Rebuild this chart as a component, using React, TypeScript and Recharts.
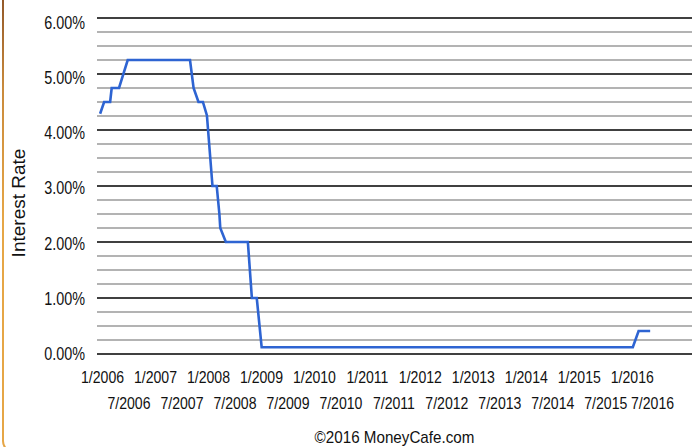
import React from 'react';
import { LineChart, Line, XAxis, YAxis, CartesianGrid } from 'recharts';

// Months since Jan 2006 (fractional where the step falls mid-month) and rate in %
const monthIndex = [0, 0.9, 2.25, 2.6, 4.25, 6.2, 20.2, 21.0, 22.1, 23.1, 24.0, 25.25, 26.2, 26.8, 27.0, 28.25, 33.2, 34.1, 35.2, 36.3, 119.7, 121.0, 123.6];
const rate = [4.29, 4.5, 4.5, 4.75, 4.75, 5.25, 5.25, 4.75, 4.5, 4.5, 4.26, 3.0, 3.0, 2.5, 2.25, 2.0, 2.0, 1.0, 1.0, 0.12, 0.12, 0.41, 0.41];

const xTickValues = [0, 6, 12, 18, 24, 30, 36, 42, 48, 54, 60, 66, 72, 78, 84, 90, 96, 102, 108, 114, 120, 126];
const xTickLabels = ['1/2006', '7/2006', '1/2007', '7/2007', '1/2008', '7/2008', '1/2009', '7/2009', '1/2010', '7/2010', '1/2011', '7/2011', '1/2012', '7/2012', '1/2013', '7/2013', '1/2014', '7/2014', '1/2015', '7/2015', '1/2016', '7/2016'];

const yGridTicks = [0, 0.25, 0.5, 0.75, 1, 1.25, 1.5, 1.75, 2, 2.25, 2.5, 2.75, 3, 3.25, 3.5, 3.75, 4, 4.25, 4.5, 4.75, 5, 5.25, 5.5, 5.75, 6];
const yMajorTicks = [0, 1, 2, 3, 4, 5, 6];
const yTickLabels = ['0.00%', '1.00%', '2.00%', '3.00%', '4.00%', '5.00%', '6.00%'];

const data = monthIndex.map((m, i) => ({ m, rate: rate[i] }));

const FONT = '"Liberation Sans", Arial, Helvetica, sans-serif';

function YTick(props: any) {
  const { x, y, payload } = props;
  const idx = yMajorTicks.indexOf(payload.value);
  if (idx < 0) return null;
  return (
    <text
      transform={`translate(${x},${y + 6 + payload.value * 0.8}) scale(0.8,1)`}
      textAnchor="end"
      fontSize={18}
      fontFamily={FONT}
      fill="#111"
    >
      {yTickLabels[idx]}
    </text>
  );
}

function XTick(props: any) {
  const { x, y, payload } = props;
  const idx = xTickValues.indexOf(payload.value);
  if (idx < 0) return null;
  const dy = idx % 2 === 0 ? 29 : 55;
  const shift = idx === xTickLabels.length - 1 ? -8.3 : 2.4 - (x - 100) * 0.008;
  return (
    <text
      transform={`translate(${x + shift},${y + dy}) scale(0.88,1)`}
      textAnchor="middle"
      fontSize={16}
      fontFamily={FONT}
      fill="#111"
    >
      {xTickLabels[idx]}
    </text>
  );
}

function YLabel(props: any) {
  const vb = props.viewBox || { x: 0, y: 18, width: 97, height: 336 };
  const cy = vb.y + vb.height / 2 + 17;
  return (
    <text
      transform={`translate(25,${cy}) rotate(-90)`}
      textAnchor="middle"
      fontSize={19}
      fontFamily={FONT}
      fill="#111"
    >
      Interest Rate
    </text>
  );
}

function XLabel(props: any) {
  const vb = props.viewBox || { x: 97, y: 354, width: 595, height: 93 };
  const cx = vb.x + vb.width / 2;
  return (
    <text
      transform={`translate(${cx},${vb.y + 89}) scale(0.95,1)`}
      textAnchor="middle"
      fontSize={16}
      fontFamily={FONT}
      fill="#111"
    >
      ©2016 MoneyCafe.com
    </text>
  );
}

function gridLine(props: any) {
  const major = props.index % 4 === 0;
  return (
    <line
      key={`h-${props.index}`}
      x1={props.x1}
      y1={props.y1}
      x2={props.x2}
      y2={props.y2}
      stroke={major ? '#000' : '#9a9a9a'}
      strokeWidth={1.6}
    />
  );
}

export default function App() {
  return (
    <div style={{ position: 'absolute', left: 0, top: 0, width: 700, height: 447, overflow: 'hidden', background: '#fff' }}>
      <div style={{ position: 'absolute', left: 2, top: -20, width: 800, height: 473, border: '2px solid #e6a646', borderRadius: 12, boxSizing: 'border-box' }} />
      <div style={{ position: 'absolute', left: 2, top: 0, width: 2, height: 220, background: 'linear-gradient(#93592a, #c98a3c 40%, #e6a646)' }} />
      <div style={{ position: 'absolute', left: 0, top: 0 }}>
        <LineChart width={700} height={447} data={data} margin={{ top: 18, right: 8, bottom: 0, left: 0 }}>
          <CartesianGrid horizontal={gridLine as any} vertical={false} stroke="#9a9a9a" />
          <XAxis
            dataKey="m"
            type="number"
            domain={[-0.7, 133]}
            ticks={xTickValues}
            interval={0}
            axisLine={false}
            tickLine={false}
            tickSize={0}
            tickMargin={0}
            height={93}
            tick={<XTick />}
            label={<XLabel />}
          />
          <YAxis
            type="number"
            domain={[0, 6]}
            ticks={yGridTicks}
            interval={0}
            axisLine={false}
            tickLine={false}
            tickSize={0}
            tickMargin={12}
            width={97}
            tick={<YTick />}
            label={<YLabel />}
          />
          <Line
            type="linear"
            dataKey="rate"
            stroke="#2e64d2"
            strokeWidth={2.6}
            dot={false}
            activeDot={false}
            isAnimationActive={false}
          />
        </LineChart>
      </div>
    </div>
  );
}
